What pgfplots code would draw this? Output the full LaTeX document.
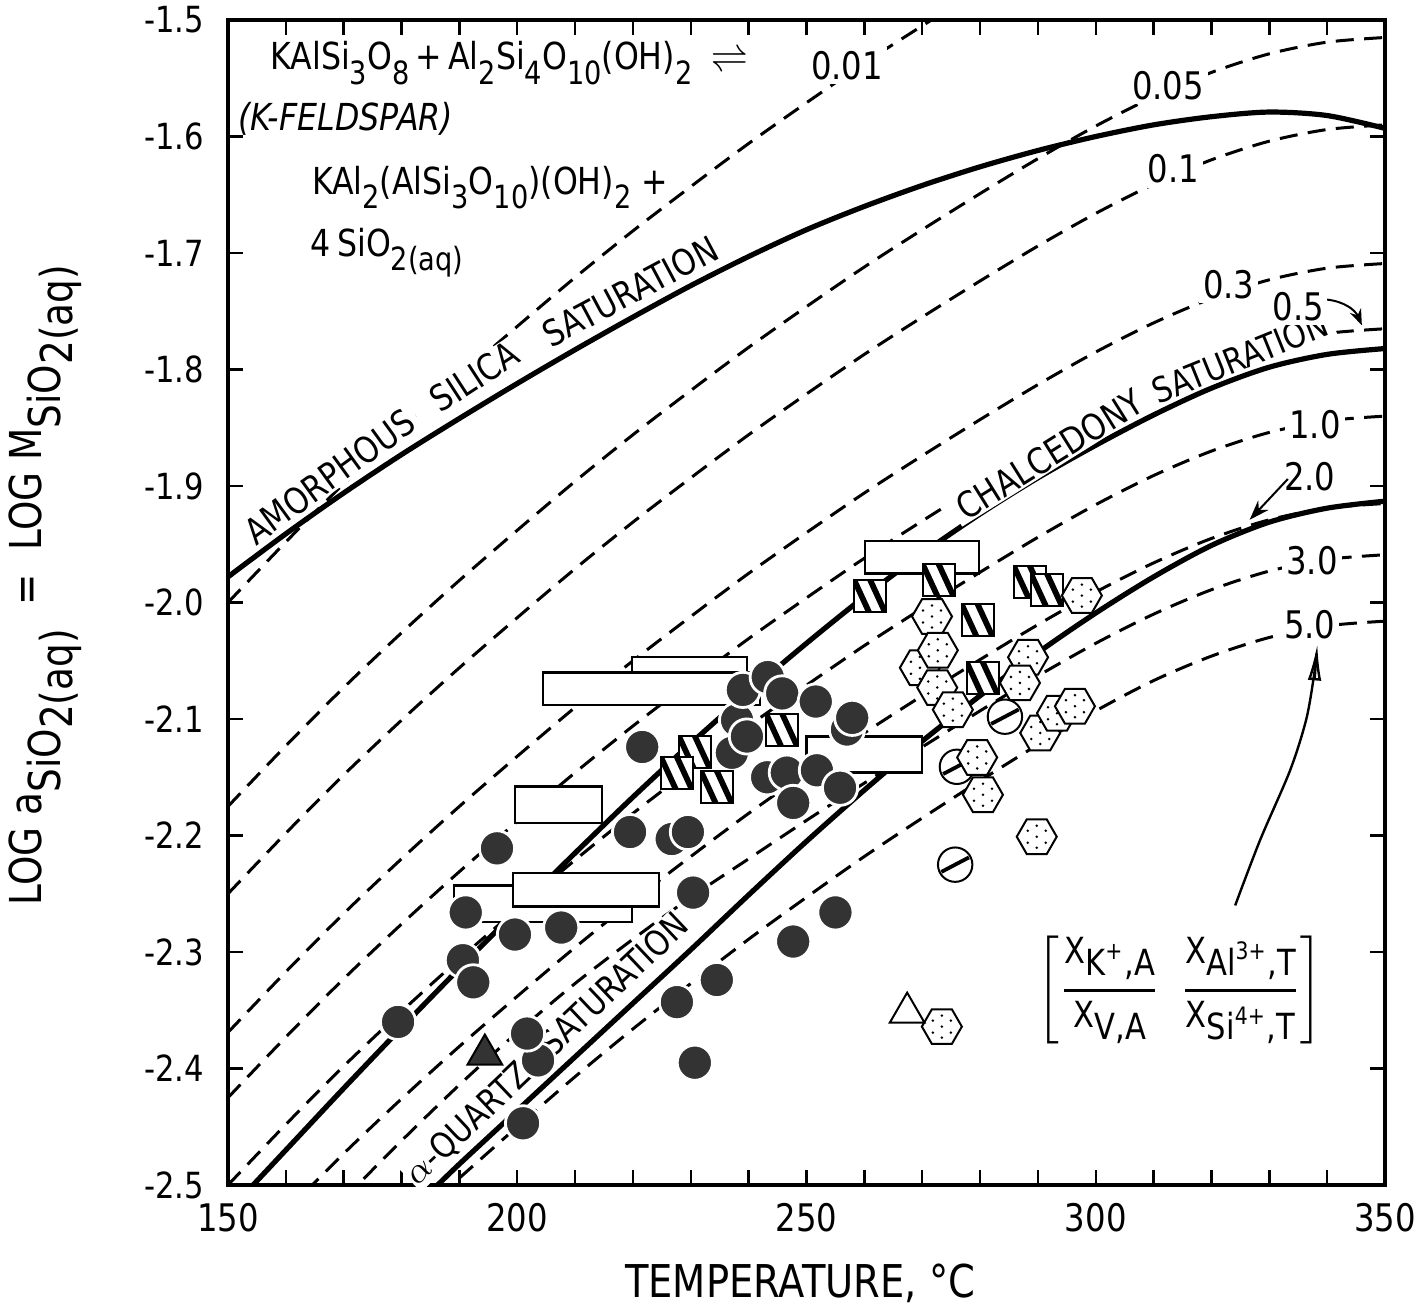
\documentclass[border=0pt]{standalone}
\usepackage{fontspec}
\setmainfont{DejaVu Sans}[FakeStretch=0.85]
\usepackage{amsmath}
\usepackage{pgfplots}
\pgfplotsset{compat=1.18}
\usetikzlibrary{arrows.meta}

% dotted hexagon
\pgfdeclareplotmark{hexdot}{%
  \pgfpathmoveto{\pgfqpoint{\pgfplotmarksize}{0pt}}%
  \pgfpathlineto{\pgfqpoint{0.5\pgfplotmarksize}{0.866\pgfplotmarksize}}%
  \pgfpathlineto{\pgfqpoint{-0.5\pgfplotmarksize}{0.866\pgfplotmarksize}}%
  \pgfpathlineto{\pgfqpoint{-\pgfplotmarksize}{0pt}}%
  \pgfpathlineto{\pgfqpoint{-0.5\pgfplotmarksize}{-0.866\pgfplotmarksize}}%
  \pgfpathlineto{\pgfqpoint{0.5\pgfplotmarksize}{-0.866\pgfplotmarksize}}%
  \pgfpathclose
  \pgfusepathqfillstroke
  \begin{pgfscope}%
  \pgfsetfillcolor{black}%
  \pgfpathcircle{\pgfqpoint{0pt}{0pt}}{0.07\pgfplotmarksize}%
  \pgfpathcircle{\pgfqpoint{0.45\pgfplotmarksize}{0.3\pgfplotmarksize}}{0.07\pgfplotmarksize}%
  \pgfpathcircle{\pgfqpoint{-0.45\pgfplotmarksize}{0.3\pgfplotmarksize}}{0.07\pgfplotmarksize}%
  \pgfpathcircle{\pgfqpoint{0pt}{0.55\pgfplotmarksize}}{0.07\pgfplotmarksize}%
  \pgfpathcircle{\pgfqpoint{0.45\pgfplotmarksize}{-0.3\pgfplotmarksize}}{0.07\pgfplotmarksize}%
  \pgfpathcircle{\pgfqpoint{-0.45\pgfplotmarksize}{-0.3\pgfplotmarksize}}{0.07\pgfplotmarksize}%
  \pgfpathcircle{\pgfqpoint{0pt}{-0.55\pgfplotmarksize}}{0.07\pgfplotmarksize}%
  \pgfusepathqfill
  \end{pgfscope}%
}
% hatched square
\pgfdeclareplotmark{hsq}{%
  \pgfpathrectangle{\pgfqpoint{-\pgfplotmarksize}{-\pgfplotmarksize}}{\pgfqpoint{2\pgfplotmarksize}{2\pgfplotmarksize}}%
  \pgfusepathqfillstroke
  \begin{pgfscope}%
  \pgfpathrectangle{\pgfqpoint{-\pgfplotmarksize}{-\pgfplotmarksize}}{\pgfqpoint{2\pgfplotmarksize}{2\pgfplotmarksize}}%
  \pgfusepath{clip}%
  \pgfsetlinewidth{0.36\pgfplotmarksize}%
  \pgfsetbuttcap
  \pgfpathmoveto{\pgfqpoint{-1.15\pgfplotmarksize}{1.3\pgfplotmarksize}}%
  \pgfpathlineto{\pgfqpoint{0.05\pgfplotmarksize}{-1.3\pgfplotmarksize}}%
  \pgfpathmoveto{\pgfqpoint{-0.15\pgfplotmarksize}{1.3\pgfplotmarksize}}%
  \pgfpathlineto{\pgfqpoint{1.05\pgfplotmarksize}{-1.3\pgfplotmarksize}}%
  \pgfusepathqstroke
  \end{pgfscope}%
  \pgfpathrectangle{\pgfqpoint{-\pgfplotmarksize}{-\pgfplotmarksize}}{\pgfqpoint{2\pgfplotmarksize}{2\pgfplotmarksize}}%
  \pgfusepathqstroke
}
% circle with a bar
\pgfdeclareplotmark{slashc}{%
  \pgfpathcircle{\pgfpointorigin}{\pgfplotmarksize}%
  \pgfusepathqfillstroke
  \begin{pgfscope}%
  \pgfsetlinewidth{0.22\pgfplotmarksize}%
  \pgfpathmoveto{\pgfqpoint{-0.8\pgfplotmarksize}{-0.42\pgfplotmarksize}}%
  \pgfpathlineto{\pgfqpoint{0.8\pgfplotmarksize}{0.42\pgfplotmarksize}}%
  \pgfusepathqstroke
  \end{pgfscope}%
}

\newcommand{\sub}[1]{\raisebox{-0.7ex}{\fontsize{8}{9}\selectfont #1}}
\newcommand{\lo}[1]{\raisebox{-0.6ex}{#1}}

\begin{document}
\begin{tikzpicture}
\begin{axis}[
  scale only axis,
  width=289.25pt, height=291.25pt,
  xmin=150, xmax=350, ymin=-2.5, ymax=-1.5,
  xtick={150,200,250,300,350},
  minor x tick num=4,
  ytick={-2.5,-2.4,-2.3,-2.2,-2.1,-2.0,-1.9,-1.8,-1.7,-1.6,-1.5},
  major tick length=3.75pt, minor tick length=3.75pt,
  tick style={line width=0.6pt, black},
  axis line style={line width=0.8pt},
  x tick label style={font=\fontsize{9.5}{10}\selectfont, yshift=-1pt,
    /pgf/number format/.cd, fixed, precision=0, assume math mode=true},
  y tick label style={font=\fontsize{9}{10}\selectfont, xshift=-2.5pt,
    /pgf/number format/.cd, fixed, fixed zerofill, precision=1, assume math mode=true},
  clip mode=individual,
  solid curve/.style={line width=1.3pt, smooth},
  dash curve/.style={line width=0.75pt, dash pattern=on 4.5pt off 2.6pt, smooth},
]
% bounding box corners of the whole figure
\coordinate (bbSW) at (axis cs:110.59,-2.6107);
\coordinate (bbNE) at (axis cs:356.05,-1.4828);

% ratio curves
\addplot[dash curve] coordinates {(150,-2.000) (160,-1.948) (170,-1.898) (180,-1.851) (190,-1.806) (200,-1.763) (210,-1.721) (220,-1.681) (230,-1.643) (240,-1.606) (250,-1.571) (260,-1.537) (270,-1.505) (280,-1.474)};
\addplot[dash curve] coordinates {(150,-2.175) (160,-2.123) (170,-2.073) (180,-2.026) (190,-1.981) (200,-1.938) (210,-1.896) (220,-1.856) (230,-1.818) (240,-1.781) (250,-1.746) (260,-1.712) (270,-1.680) (280,-1.649) (290,-1.619) (300,-1.591) (310,-1.566) (320,-1.545) (330,-1.529) (340,-1.519) (350,-1.515)};
\addplot[dash curve] coordinates {(150,-2.250) (160,-2.198) (170,-2.148) (180,-2.101) (190,-2.056) (200,-2.013) (210,-1.971) (220,-1.931) (230,-1.893) (240,-1.856) (250,-1.821) (260,-1.787) (270,-1.755) (280,-1.724) (290,-1.694) (300,-1.666) (310,-1.641) (320,-1.620) (330,-1.604) (340,-1.594) (350,-1.590)};
\addplot[dash curve] coordinates {(150,-2.369) (160,-2.317) (170,-2.267) (180,-2.220) (190,-2.175) (200,-2.132) (210,-2.090) (220,-2.050) (230,-2.012) (240,-1.975) (250,-1.940) (260,-1.906) (270,-1.874) (280,-1.843) (290,-1.813) (300,-1.785) (310,-1.760) (320,-1.739) (330,-1.723) (340,-1.713) (350,-1.709)};
\addplot[dash curve] coordinates {(150,-2.425) (160,-2.373) (170,-2.323) (180,-2.276) (190,-2.231) (200,-2.188) (210,-2.146) (220,-2.106) (230,-2.068) (240,-2.031) (250,-1.996) (260,-1.962) (270,-1.930) (280,-1.899) (290,-1.869) (300,-1.841) (310,-1.816) (320,-1.795) (330,-1.779) (340,-1.769) (350,-1.765)};
\addplot[dash curve] coordinates {(150,-2.500) (160,-2.448) (170,-2.398) (180,-2.351) (190,-2.306) (200,-2.263) (210,-2.221) (220,-2.181) (230,-2.143) (240,-2.106) (250,-2.071) (260,-2.037) (270,-2.005) (280,-1.974) (290,-1.944) (300,-1.916) (310,-1.891) (320,-1.870) (330,-1.854) (340,-1.844) (350,-1.840)};
\addplot[dash curve] coordinates {(160,-2.523) (170,-2.473) (180,-2.426) (190,-2.381) (200,-2.338) (210,-2.296) (220,-2.256) (230,-2.218) (240,-2.181) (250,-2.146) (260,-2.112) (270,-2.080) (280,-2.049) (290,-2.019) (300,-1.991) (310,-1.966) (320,-1.945) (330,-1.929) (340,-1.919) (350,-1.915)};
\addplot[dash curve] coordinates {(170,-2.512) (180,-2.462) (190,-2.414) (200,-2.369) (210,-2.327) (220,-2.289) (230,-2.253) (240,-2.220) (250,-2.187) (260,-2.155) (270,-2.124) (280,-2.093) (290,-2.063) (300,-2.035) (310,-2.010) (320,-1.989) (330,-1.973) (340,-1.963) (350,-1.959)};
\addplot[dash curve] coordinates {(190,-2.494) (200,-2.450) (210,-2.407) (220,-2.366) (230,-2.327) (240,-2.289) (250,-2.253) (260,-2.218) (270,-2.185) (280,-2.153) (290,-2.122) (300,-2.093) (310,-2.067) (320,-2.046) (330,-2.030) (340,-2.020) (350,-2.016)};

% amorphous silica saturation
\addplot[solid curve] coordinates {(150,-1.978) (160,-1.941) (170,-1.906) (180,-1.873) (190,-1.842) (200,-1.812) (210,-1.783) (220,-1.755) (230,-1.728) (240,-1.703) (250,-1.680) (260,-1.660) (270,-1.642) (280,-1.626) (290,-1.612) (300,-1.600) (310,-1.590) (320,-1.583) (330,-1.579) (340,-1.582) (350,-1.593)};
% chalcedony saturation
\addplot[solid curve] coordinates {(150,-2.523) (160,-2.470) (170,-2.417) (180,-2.365) (190,-2.314) (200,-2.264) (210,-2.215) (220,-2.167) (230,-2.121) (240,-2.077) (250,-2.035) (260,-1.995) (270,-1.958) (280,-1.924) (290,-1.893) (300,-1.865) (310,-1.839) (320,-1.816) (330,-1.798) (340,-1.787) (350,-1.782)};
% alpha-quartz saturation
\addplot[solid curve] coordinates {(185,-2.506) (190,-2.482) (200,-2.436) (210,-2.390) (220,-2.344) (230,-2.298) (240,-2.251) (250,-2.205) (260,-2.161) (270,-2.119) (280,-2.080) (290,-2.043) (300,-2.009) (310,-1.978) (320,-1.951) (330,-1.931) (340,-1.919) (350,-1.913)};

% temperature ranges (open rectangles)
\addplot[line width=0.6pt, draw=black, fill=white] coordinates {(260.1,-1.947) (279.8,-1.947) (279.8,-1.975) (260.1,-1.975)} -- cycle;
\addplot[line width=0.6pt, draw=black, fill=white] coordinates {(219.8,-2.047) (239.7,-2.047) (239.7,-2.060) (219.8,-2.060)} -- cycle;
\addplot[line width=0.6pt, draw=black, fill=white] coordinates {(204.5,-2.060) (242.0,-2.060) (242.0,-2.088) (204.5,-2.088)} -- cycle;
\addplot[line width=0.6pt, draw=black, fill=white] coordinates {(250.0,-2.115) (270.0,-2.115) (270.0,-2.146) (250.0,-2.146)} -- cycle;
\addplot[line width=0.6pt, draw=black, fill=white] coordinates {(199.6,-2.158) (214.7,-2.158) (214.7,-2.189) (199.6,-2.189)} -- cycle;
\addplot[line width=0.6pt, draw=black, fill=white] coordinates {(189.1,-2.243) (219.8,-2.243) (219.8,-2.274) (189.1,-2.274)} -- cycle;
\addplot[line width=0.6pt, draw=black, fill=white] coordinates {(199.3,-2.232) (224.5,-2.232) (224.5,-2.261) (199.3,-2.261)} -- cycle;

% curve names (drawn before the marks, as in the original)
\begin{scope}[every node/.style={font=\fontsize{9}{10}\selectfont, inner ysep=0.3pt, inner xsep=1.5pt}]
\node[rotate=36, fill=white] at (axis cs:167.5,-1.892) {AMORPHOUS};
\node[rotate=33, fill=white, inner xsep=5.5pt] at (axis cs:192.6,-1.806) {SILICA};
\node[rotate=28] at (axis cs:219.5,-1.733) {SATURATION};
\node[rotate=32, fill=white] at (axis cs:292.0,-1.873) {CHALCEDONY};
\node[rotate=22, fill=white, font=\fontsize{8.7}{10}\selectfont] at (axis cs:324.9,-1.790) {SATURATION};
\node[rotate=43.5, fill=white, inner sep=0.3pt, font=\fontsize{8.8}{10}\selectfont] at (axis cs:205.1,-2.384) {$\alpha$-QUARTZ\hspace{7pt}SATURATION};
\end{scope}

% filled circles
\addplot[only marks, mark=*, mark size=4.4pt, mark options={fill=black!80, draw=white, line width=0.7pt}] coordinates {
(190.6,-2.307) (203.6,-2.393) (226.7,-2.203) (238.0,-2.101) (237.1,-2.129) (239.0,-2.075) (243.3,-2.064) (257.0,-2.109) (243.2,-2.150) (246.6,-2.146)
(179.4,-2.360) (196.5,-2.211) (191.1,-2.266) (192.4,-2.326) (199.6,-2.285) (207.6,-2.279) (201.7,-2.370) (201.0,-2.447)
(219.5,-2.197) (221.6,-2.124) (229.5,-2.197) (230.4,-2.249) (227.6,-2.343) (234.5,-2.324) (230.7,-2.395)
(247.7,-2.291) (255.0,-2.266) (239.7,-2.115) (245.8,-2.078) (251.6,-2.085) (257.9,-2.099) (251.8,-2.144) (255.8,-2.159) (247.7,-2.172)};
% hatched squares
\addplot[only marks, mark=hsq, mark size=4pt, mark options={fill=white, draw=black, line width=0.5pt}] coordinates {
(261.0,-1.994) (272.9,-1.981) (279.6,-2.015) (288.6,-1.982) (291.6,-1.989) (280.5,-2.065) (245.8,-2.109) (230.7,-2.128) (227.6,-2.146) (234.5,-2.158)};
% barred circles
\addplot[only marks, mark=slashc, mark size=4.3pt, mark options={fill=white, draw=black, line width=0.5pt}] coordinates {
(284.3,-2.098) (276.0,-2.141) (275.7,-2.225)};
% dotted hexagons
\addplot[only marks, mark=hexdot, mark size=5pt, mark options={fill=white, draw=black, line width=0.5pt}] coordinates {
(269.6,-2.056) (271.7,-2.012) (272.7,-2.041) (272.6,-2.073) (275.3,-2.092) (288.3,-2.047) (286.9,-2.069) (297.6,-1.994)
(290.4,-2.112) (293.3,-2.095) (296.4,-2.089) (279.5,-2.133) (280.5,-2.165) (289.8,-2.201) (273.4,-2.364)};
% triangles
\addplot[only marks, mark=triangle*, mark size=5pt, mark options={fill=black!80, draw=black, line width=0.5pt}] coordinates {(194.4,-2.388)};
\addplot[only marks, mark=triangle*, mark size=5pt, mark options={fill=white, draw=black, line width=0.5pt}] coordinates {(267.4,-2.352)};

% curve values
\begin{scope}[every node/.style={fill=white, inner sep=1pt, font=\fontsize{9.5}{10}\selectfont}]
\node at (axis cs:257,-1.539) {0.01};
\node at (axis cs:312.5,-1.556) {0.05};
\node at (axis cs:313.4,-1.628) {0.1};
\node at (axis cs:323,-1.727) {0.3};
\node at (axis cs:335.0,-1.746) {0.5};
\node at (axis cs:337.9,-1.847) {1.0};
\node at (axis cs:337,-1.892) {2.0};
\node at (axis cs:337.4,-1.964) {3.0};
\node at (axis cs:337,-2.019) {5.0};
\end{scope}
\draw[line width=0.5pt, -{Stealth[length=4pt,width=3pt]}] (axis cs:340.0,-1.740) to[bend left=30] (axis cs:346.0,-1.762);
\draw[line width=0.5pt, -{Stealth[length=5pt,width=3.5pt]}] (axis cs:333.2,-1.894) -- (axis cs:326.6,-1.929);
\draw[line width=0.6pt, -{Latex[open,length=9pt,width=3.4pt]}] plot[smooth] coordinates {(axis cs:324.1,-2.260) (axis cs:328.4,-2.204) (axis cs:333.6,-2.144) (axis cs:336.4,-2.100) (axis cs:337.8,-2.060) (axis cs:338.3,-2.036)};

% reaction
\begin{scope}[every node/.style={font=\fontsize{9.3}{12}\selectfont, inner sep=0pt, anchor=west}]
\node at (axis cs:157.2,-1.537) {KAlSi\sub{3}O\sub{8}\,+\,Al\sub{2}Si\sub{4}O\sub{10}(OH)\sub{2}\enspace$\rightleftharpoons$};
\node at (axis cs:151.6,-1.585) {\itshape (K-FELDSPAR)};
\node at (axis cs:164.4,-1.644) {KAl\sub{2}(AlSi\sub{3}O\sub{10})(OH)\sub{2} +};
\node at (axis cs:164.2,-1.700) {4\,SiO\sub{2(aq)}};
\end{scope}

% site ratio
\node[font=\fontsize{9}{10}\selectfont] at (axis cs:314.6,-2.333) {$\left[\genfrac{}{}{0.8pt}{0}{\text{X\lo{K\textsuperscript{+},A}}}{\text{X\lo{V,A}}}\;\;\genfrac{}{}{0.8pt}{0}{\text{X\lo{Al\textsuperscript{3+},T}}}{\text{X\lo{Si\textsuperscript{4+},T}}}\right]$};

% axis titles
\node[font=\fontsize{11.3}{13}\selectfont] at (axis cs:248.9,-2.584) {TEMPERATURE, °C};
\node[rotate=90, font=\fontsize{11}{13}\selectfont] at (axis cs:118.4,-1.985) {LOG a\raisebox{-0.8ex}{SiO\raisebox{-0.5ex}{2(aq)}}\ \ =\ \ LOG M\raisebox{-0.8ex}{SiO\raisebox{-0.5ex}{2(aq)}}};
\end{axis}
\pgfresetboundingbox
\path[use as bounding box] (bbSW) rectangle (bbNE);
\end{tikzpicture}
\end{document}
